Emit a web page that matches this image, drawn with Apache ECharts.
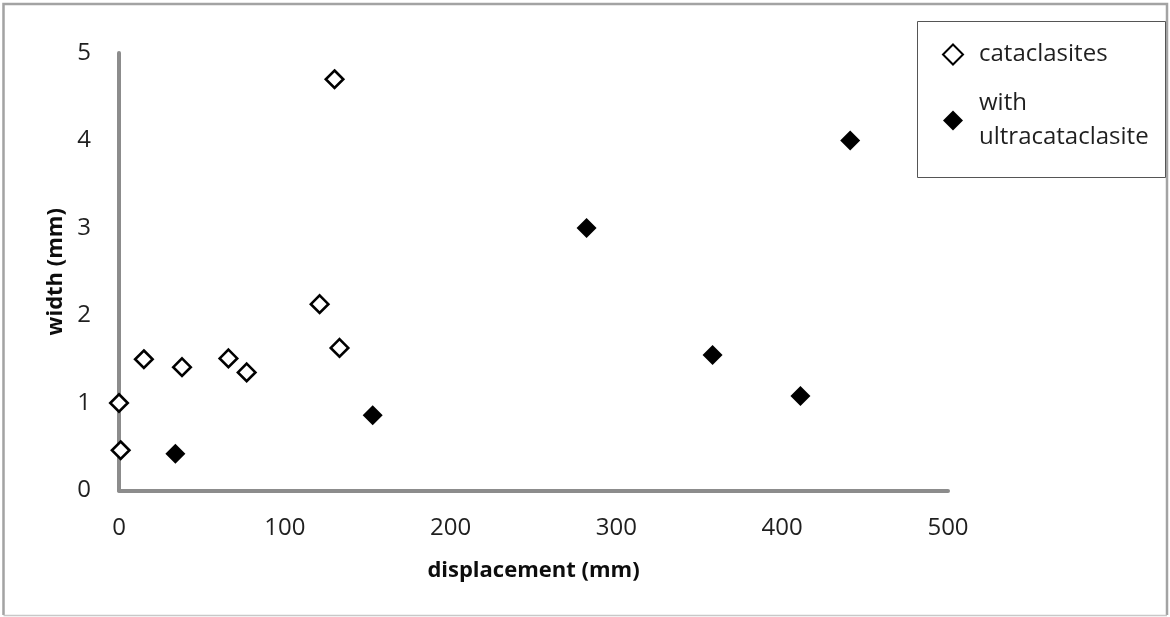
<!DOCTYPE html>
<html>
<head>
<meta charset="utf-8">
<script src="https://cdn.jsdelivr.net/npm/echarts@6/dist/echarts.min.js"></script>
<style>
html,body{margin:0;padding:0;background:#fff;}
#c{width:1170px;height:617px;}
</style>
</head>
<body>
<div id="c"></div>
<script>
// Data
var cataX = [0, 1, 15, 38, 66, 77, 121, 130, 133];
var cataY = [1.0, 0.46, 1.5, 1.41, 1.51, 1.35, 2.13, 4.7, 1.63];
var ultraX = [34, 153, 282, 358, 411, 441];
var ultraY = [0.42, 0.86, 3.0, 1.55, 1.08, 4.0];
var xTicks = [0, 100, 200, 300, 400, 500];
var yTicks = [0, 1, 2, 3, 4, 5];
var seriesNames = ['cataclasites', 'with\nultracataclasite'];

function pairs(xs, ys) { return xs.map(function (x, i) { return [x, ys[i]]; }); }

var chart = echarts.init(document.getElementById('c'), null, {renderer: 'canvas'});
var font = '"Open Sans", sans-serif';
chart.setOption({
  animation: false,
  backgroundColor: '#fff',
  graphic: [
    {type: 'polyline', shape: {points: [[3.5, 615], [3.5, 4], [1167, 4], [1167, 615]]}, style: {fill: 'none', stroke: '#a3a3a3', lineWidth: 2.5}, z: -1},
    {type: 'line', shape: {x1: 3.5, y1: 615.5, x2: 1167, y2: 615.5}, style: {stroke: '#c8c8c8', lineWidth: 1.5}, z: -1},
    {type: 'rect', shape: {x: 917.5, y: 21.5, width: 248, height: 156}, style: {fill: 'none', stroke: '#555', lineWidth: 1}, z: 1}
  ],
  grid: {left: 119, right: 222, top: 53, bottom: 126.5},
  legend: {
    orient: 'vertical',
    left: 942,
    top: 37.5,
    padding: 0,
    itemGap: 15,
    itemWidth: 20,
    itemHeight: 20,
    data: seriesNames,
    textStyle: {fontFamily: font, fontSize: 24, color: '#1f1f1f', lineHeight: 34, padding: [0, 0, 0, 11]}
  },
  xAxis: {
    type: 'value', min: 0, max: 500, interval: 100,
    name: 'displacement (mm)', nameLocation: 'middle', nameGap: 69,
    nameTextStyle: {fontFamily: font, fontSize: 22, fontWeight: 'bold', color: '#0d0d0d'},
    axisLine: {show: true, onZero: false, lineStyle: {color: '#8c8c8c', width: 4}},
    axisTick: {show: false},
    splitLine: {show: false},
    axisLabel: {fontFamily: font, fontSize: 24, color: '#1f1f1f', margin: 26,
      formatter: function (v) { return xTicks.indexOf(v) >= 0 ? String(v) : ''; }}
  },
  yAxis: {
    type: 'value', min: 0, max: 5, interval: 1,
    name: 'width (mm)', nameLocation: 'middle', nameGap: 49, nameRotate: 90,
    nameTextStyle: {fontFamily: font, fontSize: 22, fontWeight: 'bold', color: '#0d0d0d'},
    axisLine: {show: true, onZero: false, lineStyle: {color: '#8c8c8c', width: 4}},
    axisTick: {show: false},
    splitLine: {show: false},
    axisLabel: {fontFamily: font, fontSize: 24, color: '#1f1f1f', margin: 28,
      formatter: function (v) { return yTicks.indexOf(v) >= 0 ? String(v) : ''; }}
  },
  series: [
    {
      name: seriesNames[0], type: 'scatter', symbol: 'diamond', symbolSize: 17.5,
      data: pairs(cataX, cataY),
      itemStyle: {color: '#ffffff', borderColor: '#000', borderWidth: 2.6, opacity: 1},
      z: 3
    },
    {
      name: seriesNames[1], type: 'scatter', symbol: 'diamond', symbolSize: 20,
      data: pairs(ultraX, ultraY),
      itemStyle: {color: '#000', borderColor: '#000', borderWidth: 0, opacity: 1},
      z: 3
    }
  ]
});
</script>
</body>
</html>
